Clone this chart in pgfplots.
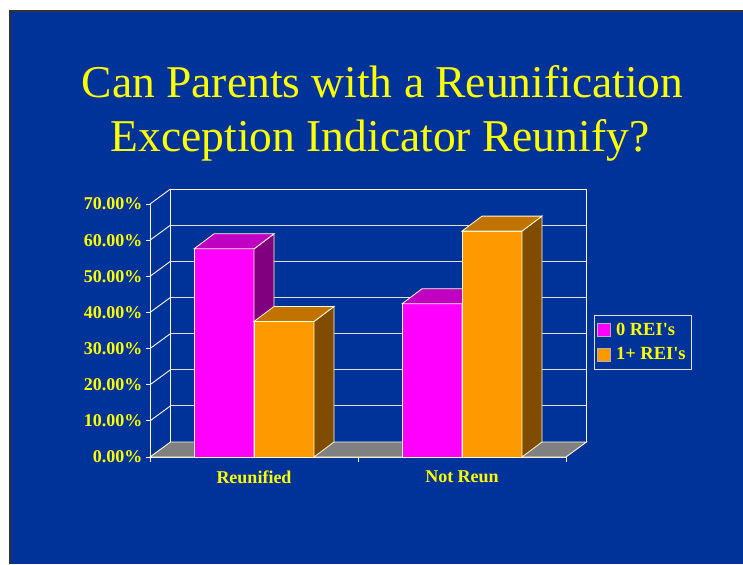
\documentclass[border=0pt]{standalone}
\usepackage{pgfplots}
\pgfplotsset{compat=1.18}
\usepackage{pgfplotstable}
\usepackage{fontspec}
\setmainfont{Liberation Serif}

\definecolor{bgblue}{RGB}{0,51,153}
\definecolor{pinkfront}{RGB}{255,0,255}
\definecolor{pinktop}{RGB}{192,0,192}
\definecolor{pinkside}{RGB}{128,0,128}
\definecolor{orgfront}{RGB}{255,153,0}
\definecolor{orgtop}{RGB}{192,115,0}
\definecolor{orgside}{RGB}{128,77,0}
\definecolor{edge}{RGB}{255,250,215}
\definecolor{gridc}{RGB}{225,225,225}
\definecolor{floorc}{RGB}{128,128,128}
\definecolor{ttl}{RGB}{255,255,0}

\pgfplotstableread{
x zero one
1 57.6 37.5
2 42.4 62.5
}\reidata

\newcommand\yu{3.6143}

% front, top and side faces of a bar; mark sits at the group centre, top of bar
\pgfdeclareplotmark{pinkfaces}{%
  \pgfsetlinewidth{0.8pt}\pgfsetstrokecolor{edge}%
  \pgfsetfillcolor{pinkfront}%
  \pgfpathmoveto{\pgfpoint{-60pt}{0pt}}%
  \pgfpathlineto{\pgfpoint{0pt}{0pt}}%
  \pgfpathlineto{\pgfpoint{0pt}{0pt-\barh*\yu pt}}%
  \pgfpathlineto{\pgfpoint{-60pt}{0pt-\barh*\yu pt}}%
  \pgfpathclose
  \pgfusepath{fill,stroke}%
  \pgfsetfillcolor{pinkside}%
  \pgfpathmoveto{\pgfpoint{0pt}{0pt}}%
  \pgfpathlineto{\pgfpoint{20pt}{15pt}}%
  \pgfpathlineto{\pgfpoint{20pt}{15pt-\barh*\yu pt}}%
  \pgfpathlineto{\pgfpoint{0pt}{0pt-\barh*\yu pt}}%
  \pgfpathclose
  \pgfusepath{fill,stroke}%
  \pgfsetfillcolor{pinktop}%
  \pgfpathmoveto{\pgfpoint{-60pt}{0pt}}%
  \pgfpathlineto{\pgfpoint{-40pt}{15pt}}%
  \pgfpathlineto{\pgfpoint{20pt}{15pt}}%
  \pgfpathlineto{\pgfpoint{0pt}{0pt}}%
  \pgfpathclose
  \pgfusepath{fill,stroke}%
}
\pgfdeclareplotmark{orgfaces}{%
  \pgfsetlinewidth{0.8pt}\pgfsetstrokecolor{edge}%
  \pgfsetfillcolor{orgfront}%
  \pgfpathmoveto{\pgfpoint{0pt}{0pt}}%
  \pgfpathlineto{\pgfpoint{60pt}{0pt}}%
  \pgfpathlineto{\pgfpoint{60pt}{0pt-\barh*\yu pt}}%
  \pgfpathlineto{\pgfpoint{0pt}{0pt-\barh*\yu pt}}%
  \pgfpathclose
  \pgfusepath{fill,stroke}%
  \pgfsetfillcolor{orgside}%
  \pgfpathmoveto{\pgfpoint{60pt}{0pt}}%
  \pgfpathlineto{\pgfpoint{80pt}{15pt}}%
  \pgfpathlineto{\pgfpoint{80pt}{15pt-\barh*\yu pt}}%
  \pgfpathlineto{\pgfpoint{60pt}{0pt-\barh*\yu pt}}%
  \pgfpathclose
  \pgfusepath{fill,stroke}%
  \pgfsetfillcolor{orgtop}%
  \pgfpathmoveto{\pgfpoint{0pt}{0pt}}%
  \pgfpathlineto{\pgfpoint{20pt}{15pt}}%
  \pgfpathlineto{\pgfpoint{80pt}{15pt}}%
  \pgfpathlineto{\pgfpoint{60pt}{0pt}}%
  \pgfpathclose
  \pgfusepath{fill,stroke}%
}

\begin{document}
\begin{tikzpicture}
\useasboundingbox (0pt,0pt) rectangle (743pt,-564pt);
\fill[white] (0pt,0pt) rectangle (743pt,-564pt);
\fill[black!80] (9pt,-10pt) rectangle (743pt,-564pt);
\fill[bgblue] (11pt,-12pt) rectangle (743pt,-564pt);

\node[anchor=base, text=ttl, font=\fontsize{45.5}{54}\selectfont, inner sep=0pt] at (382.5pt,-98pt) {Can Parents with a Reunification};
\node[anchor=base, text=ttl, font=\fontsize{45.5}{54}\selectfont, inner sep=0pt] at (380pt,-152pt) {Exception Indicator Reunify?};

\begin{axis}[
  at={(150pt,-457pt)}, anchor=south west,
  scale only axis, width=416pt, height=253pt,
  xmin=0.5, xmax=2.5, ymin=0, ymax=70,
  clip=false,
  axis x line*=bottom, axis y line*=left,
  axis line style={draw=edge, line width=0.9pt},
  ytick={0,10,20,30,40,50,60,70},
  yticklabels={0.00\%,10.00\%,20.00\%,30.00\%,40.00\%,50.00\%,60.00\%,70.00\%},
  xtick={1,2}, xticklabels={Reunified,Not Reun},
  minor xtick={0.5,1.5,2.5},
  tick align=outside,
  major tick length=4pt, minor tick length=5pt,
  tick style={draw=edge, line width=0.9pt},
  major x tick style={draw=none},
  ticklabel style={text=ttl, font=\bfseries\fontsize{18}{20}\selectfont},
  xticklabel style={yshift=-6.5pt},
  legend style={at={(axis description cs:1.0673,0.5613)}, anchor=north west,
    draw=gridc, line width=0.8pt, fill=bgblue, text=ttl,
    font=\bfseries\fontsize{18.5}{20}\selectfont,
    inner xsep=3pt, inner ysep=4.5pt, row sep=5pt,
    nodes={inner xsep=2pt, inner ysep=3pt},
    /tikz/every odd column/.append style={column sep=3pt}},
  legend cell align=left,
  legend image code/.code={\draw[#1, draw=gray!60, line width=0.6pt] (0pt,-6.5pt) rectangle (13pt,6.5pt);},
]
% floor
\fill[floorc, draw=edge, line width=0.9pt] (axis cs:0.5,0) -- ++(20.5pt,15pt) -- ([xshift=20.5pt,yshift=15pt]axis cs:2.5,0) -- (axis cs:2.5,0) -- cycle;
% side wall lines and back wall gridlines
\pgfplotsinvokeforeach{10,20,30,40,50,60}{
  \draw[edge, line width=0.9pt] (axis cs:0.5,#1) -- ++(20.5pt,15pt);
  \draw[gridc, line width=0.9pt] ([xshift=20.5pt,yshift=15pt]axis cs:0.5,#1) -- ([xshift=20.5pt,yshift=15pt]axis cs:2.5,#1);
}
\draw[edge, line width=0.9pt] (axis cs:0.5,70) -- ++(20.5pt,15pt);
\draw[edge, line width=0.9pt] ([xshift=20.5pt,yshift=15pt]axis cs:0.5,0) -- ([xshift=20.5pt,yshift=15pt]axis cs:0.5,70) -- ([xshift=20.5pt,yshift=15pt]axis cs:2.5,70) -- ([xshift=20.5pt,yshift=15pt]axis cs:2.5,0);

\addplot[ybar, bar width=60pt, bar shift=-30pt, fill=pinkfront, draw=edge, line width=0.8pt] table[x=x,y=zero]{\reidata};
\addlegendentry{0 REI\textquotesingle s\hspace*{1pt}}
\addplot[ybar, bar width=60pt, bar shift=30pt, fill=orgfront, draw=edge, line width=0.8pt] table[x=x,y=one]{\reidata};
\addlegendentry{1+ REI\textquotesingle s\hspace*{1pt}}
\addplot[scatter, only marks, mark=pinkfaces, forget plot,
  visualization depends on={rawy \as \barh}] table[x=x,y=zero]{\reidata};
\addplot[scatter, only marks, mark=orgfaces, forget plot,
  visualization depends on={rawy \as \barh}] table[x=x,y=one]{\reidata};
\end{axis}
\end{tikzpicture}
\end{document}
